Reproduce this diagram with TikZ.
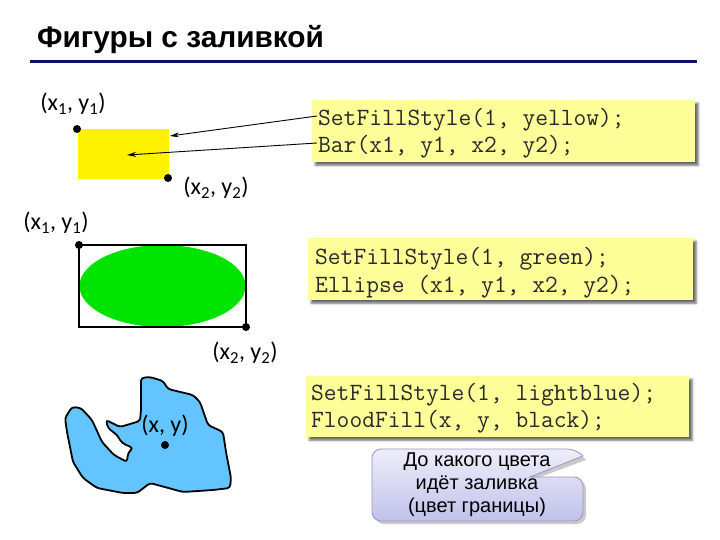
\documentclass[tikz,border=0pt]{standalone}
\usepackage{fontspec}
\setmainfont{Liberation Sans}
\newfontfamily\labfont{Carlito}
\usetikzlibrary{arrows.meta,shadows.blur,shapes.geometric}
\definecolor{navyline}{RGB}{15,15,110}
\definecolor{codeyellow}{RGB}{255,255,153}
\definecolor{bargreen}{RGB}{0,226,0}
\definecolor{blobblue}{RGB}{100,196,255}
\definecolor{lav}{RGB}{226,226,246}
\definecolor{lavedge}{RGB}{150,150,190}
\definecolor{codetext}{RGB}{40,40,40}
\tikzset{
  codebox/.style={fill=codeyellow, draw=none, anchor=north west, inner sep=0pt,
    blur shadow={shadow xshift=3pt, shadow yshift=-3pt, shadow blur steps=4, shadow opacity=60}},
  code/.style={anchor=base west, inner sep=0pt, text=codetext, font=\ttfamily\fontsize{24.8}{28}\selectfont},
  lab/.style={inner sep=0pt, font=\labfont\fontsize{24}{28}\selectfont},
  dot/.style={circle, fill=black, inner sep=0pt, minimum size=8pt},
  arr/.style={-{Stealth[length=9pt,width=5pt]}, line width=0.9pt},
}
\begin{document}
\begin{tikzpicture}[x=1pt,y=-1pt]
\useasboundingbox (0,0) rectangle (720,540);
% title
\node[anchor=base west, inner sep=0pt, font=\bfseries\fontsize{29.8}{34}\selectfont] (title) at (37,48) {Фигуры с заливкой};
\draw[navyline, line width=3pt] (30,62) -- (697,62);

% --- bar ---
\node[fill=yellow, anchor=north west, inner sep=0pt, minimum width=91pt, minimum height=50pt] (bar) at (78,129) {};
\node[dot] (d1) at (77,129) {};
\node[dot] (d2) at (168,178) {};
\node[lab] (l1) at (73,104) {(x\textsubscript{1}, y\textsubscript{1})};
\node[lab] (l2) at (216,188) {(x\textsubscript{2}, y\textsubscript{2})};

\node[codebox, minimum width=383pt, minimum height=62pt] (cb1) at (312,100) {};
\node[code] (c1a) at (318,126) {SetFillStyle(1, yellow);};
\node[code] (c1b) at (318,153) {Bar(x1, y1, x2, y2);};
\coordinate (s1) at (317,116);
\coordinate (s2) at (317,143);
\coordinate (t1) at (170,136);
\coordinate (t2) at (127,155);
\draw[arr] (s1) -- (t1);
\draw[arr] (s2) -- (t2);

% --- ellipse ---
\node[fill=bargreen, ellipse, inner sep=0pt, minimum width=166pt, minimum height=82pt] (ell) at (162.5,286) {};
\draw[line width=1.3pt] (79,245) rectangle (246,327);
\node[dot] (d3) at (79,245) {};
\node[dot] (d4) at (246,327) {};
\node[lab] (l3) at (56,223) {(x\textsubscript{1}, y\textsubscript{1})};
\node[lab] (l4) at (245,353) {(x\textsubscript{2}, y\textsubscript{2})};

\node[codebox, minimum width=385pt, minimum height=62pt] (cb2) at (308,238) {};
\node[code] (c2a) at (315,264) {SetFillStyle(1, green);};
\node[code] (c2b) at (315,292) {Ellipse (x1, y1, x2, y2);};

% --- flood fill ---
\draw[fill=blobblue, line width=1.8pt, rounded corners=3pt]
 (141,378) -- (150,377) -- (163,381) -- (168,389) -- (193,395) -- (200,402) -- (208,425) -- (223,432)
 -- (226,452) -- (231,478) -- (230,488) -- (213,490) -- (183,492) -- (150,483) -- (137,493) -- (123,493)
 -- (97,488) -- (83,478) -- (73,462) -- (67,432) -- (65,418) -- (72,407) -- (81,408) -- (92,420)
 -- (102,442) -- (114,455) -- (127,462) -- (128,453) -- (133,448) -- (122,443) -- (117,435) -- (108,428)
 -- (106,420) -- (120,427) -- (140,421) -- (141,410) -- cycle;
\node[dot] (d5) at (165,445) {};
\node[lab] (l5) at (165,426) {(x, y)};

\node[codebox, minimum width=383pt, minimum height=61pt] (cb3) at (306,376) {};
\node[code] (c3a) at (311,400) {SetFillStyle(1, lightblue);};
\node[code] (c3b) at (311,427) {FloodFill(x, y, black);};

% --- callout ---
\path[fill=black!35, opacity=0.6]
 (375,462) [rounded corners=9pt] -- (375,452) -- (579,452) [sharp corners] -- (586,460) -- (532,480) [rounded corners=9pt] -- (586,480)
 -- (586,524) -- (375,524) -- (375,462);
\draw[lavedge, line width=0.8pt, top color=white!40!lav, bottom color=lav!90!blue!95!black]
 (372,462) [rounded corners=9pt] -- (372,449) -- (576,449) [sharp corners] -- (583,456) -- (530,477) [rounded corners=9pt] -- (583,477)
 -- (583,521) -- (372,521) -- (372,462);
\node[align=center, inner sep=0pt, font=\fontsize{20}{23}\selectfont] (callout) at (477,485)
 {До какого цвета\\идёт заливка\\(цвет границы)};
\end{tikzpicture}
\end{document}
